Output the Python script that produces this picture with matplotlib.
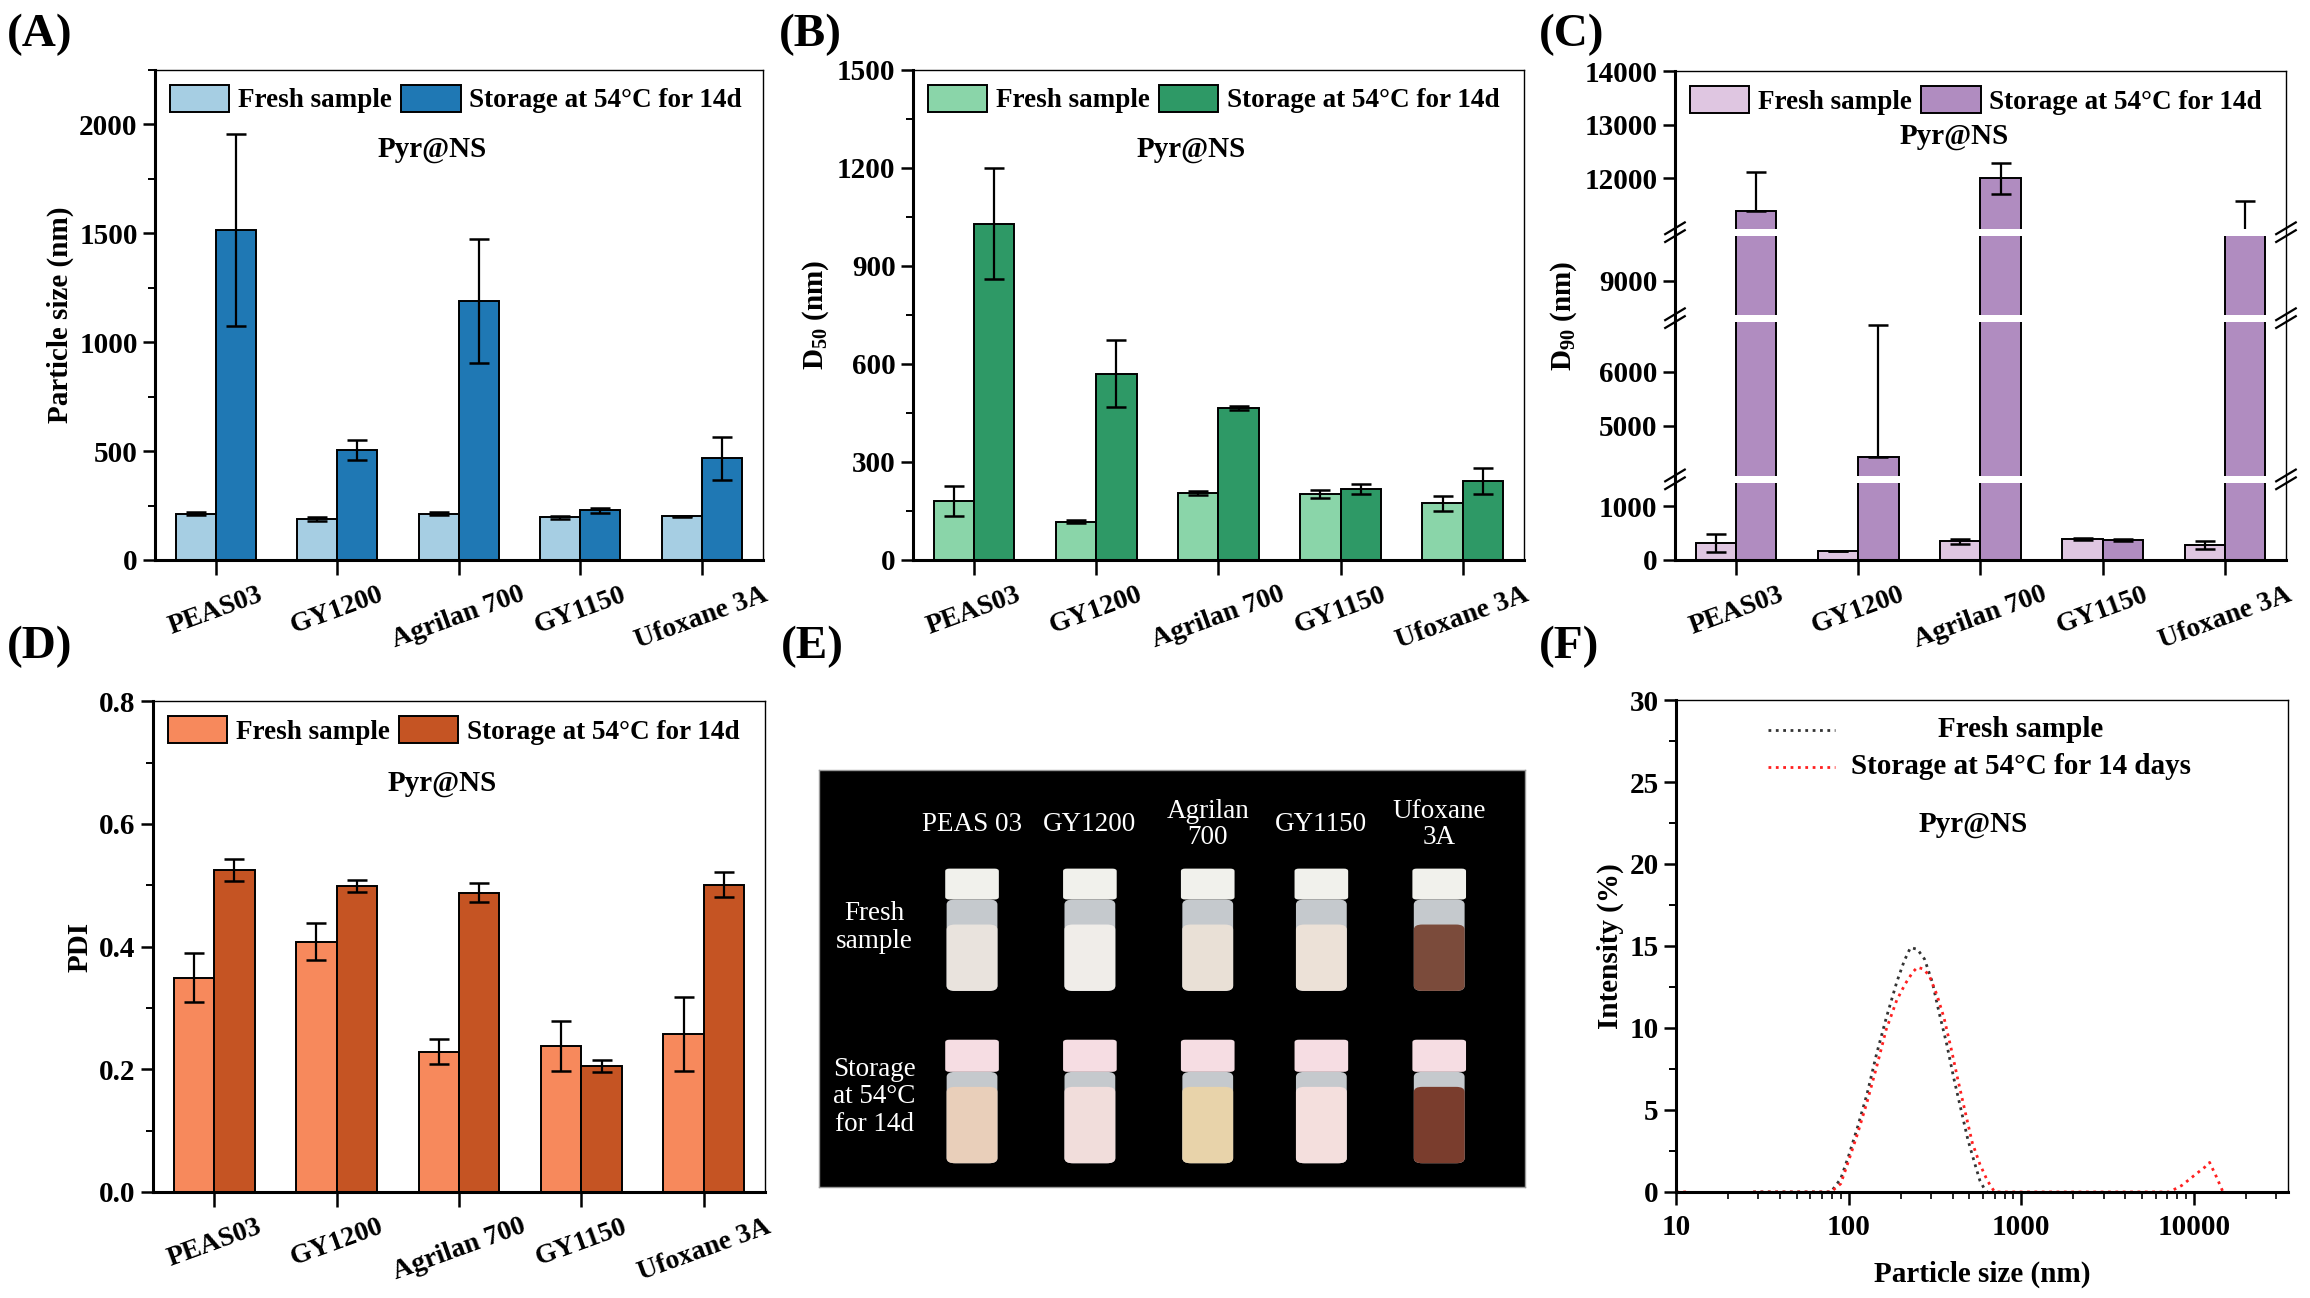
import numpy as np
import matplotlib
matplotlib.use("Agg")
import matplotlib.pyplot as plt
from matplotlib.ticker import AutoMinorLocator, FixedLocator, NullFormatter, NullLocator, LogLocator
from matplotlib.patches import Rectangle, FancyBboxPatch

plt.rcParams['font.family'] = ['Liberation Serif', 'DejaVu Serif']
plt.rcParams['font.weight'] = 'bold'
plt.rcParams['axes.labelweight'] = 'bold'
plt.rcParams['mathtext.fontset'] = 'custom'
plt.rcParams['mathtext.rm'] = 'Liberation Serif:bold'
plt.rcParams['mathtext.it'] = 'Liberation Serif:bold'
plt.rcParams['mathtext.bf'] = 'Liberation Serif:bold'

# ---- data ----
categories = ['PEAS03', 'GY1200', 'Agrilan 700', 'GY1150', 'Ufoxane 3A']

size_fresh = [213, 188, 213, 196, 201]
size_fresh_err = [8, 8, 8, 8, 2]
size_stored = [1515, 504, 1190, 228, 466]
size_stored_err = [440, 45, 285, 12, 100]

d50_fresh = [180, 117, 205, 201, 174]
d50_fresh_err = [45, 5, 6, 12, 23]
d50_stored = [1029, 570, 465, 218, 241]
d50_stored_err = [170, 103, 5, 15, 40]

d90_fresh = [320, 170, 350, 385, 280]
d90_fresh_err = [170, 0, 45, 20, 70]
d90_stored = [11400, 4420, 12000, 370, 11050]
d90_stored_err_low = [0, 0, 280, 25, 0]
d90_stored_err_high = [720, 2460, 280, 25, 530]

pdi_fresh = [0.349, 0.408, 0.229, 0.238, 0.258]
pdi_fresh_err = [0.04, 0.03, 0.02, 0.04, 0.06]
pdi_stored = [0.525, 0.499, 0.488, 0.205, 0.501]
pdi_stored_err = [0.018, 0.01, 0.016, 0.01, 0.02]

dls_fresh_size = [28, 40, 55, 70, 79, 90, 100, 113, 128, 145, 165, 190, 210, 228, 250,
                  275, 305, 333, 370, 405, 450, 490, 535, 575, 610, 635]
dls_fresh_int = [0, 0, 0, 0, 0, 0.8, 2.2, 4.0, 6.0, 8.4, 10.6, 12.8, 14.1, 14.9, 14.8,
                 14.2, 12.8, 11.0, 9.0, 7.0, 4.9, 3.2, 1.8, 0.7, 0.2, 0]
dls_stored_size = [10, 12, np.nan, 28, 40, 55, 70, 79, 90, 100, 113, 128, 145, 165, 190,
                   213, 235, 250, 270, 293, 325, 357, 395, 430, 475, 520, 575, 635, 700,
                   800, 1000, 1500, 2000, 3000, 4000, 5000, 6000, 7200, 8500, 10000,
                   11500, 12300, 13500, 14700]
dls_stored_int = [0, 0, np.nan, 0, 0, 0, 0, 0, 0.5, 1.9, 3.6, 5.5, 7.6, 9.9, 11.7,
                  12.7, 13.4, 13.7, 13.6, 13.2, 12.0, 10.6, 8.6, 6.8, 4.8, 3.0, 1.7, 0.7, 0,
                  0, 0, 0, 0, 0, 0, 0, 0, 0, 0.4, 1.0,
                  1.5, 1.8, 0.9, 0]

photo_headers = ['PEAS 03', 'GY1200', 'Agrilan\n700', 'GY1150', 'Ufoxane\n3A']
photo_rows = ['Fresh\nsample', 'Storage\nat 54°C\nfor 14d']
liquid_fresh = ['#e9e3dd', '#f0ede9', '#e9e0d6', '#ece1d7', '#7b4b3b']
liquid_stored = ['#e9cfba', '#f1dddb', '#e8d3aa', '#f4dfdd', '#7a3d2d']
cap_colors = ['#f1f1ec', '#f6dde3']

fig = plt.figure(figsize=(23.1, 12.98), dpi=100)


def style_axes(ax, minor=True):
    for s in ['left', 'bottom']:
        ax.spines[s].set_linewidth(2.2)
    for s in ['top', 'right']:
        ax.spines[s].set_linewidth(1.0)
    ax.tick_params(axis='both', which='major', direction='out', width=1.8, length=9, labelsize=21)
    if minor:
        ax.yaxis.set_minor_locator(AutoMinorLocator(2))
        ax.tick_params(axis='y', which='minor', direction='out', width=1.4, length=5)


def bar_panel(ax, fresh, fresh_err, stored, stored_err, c_fresh, c_stored, ylabel):
    x = np.arange(len(categories))
    w = 0.33
    ax.bar(x - w / 2, fresh, w, color=c_fresh, edgecolor='black', linewidth=1.4,
           label='Fresh sample', zorder=2)
    ax.bar(x + w / 2, stored, w, color=c_stored, edgecolor='black', linewidth=1.4,
           label='Storage at 54°C for 14d', zorder=2)
    ax.errorbar(x - w / 2, fresh, yerr=fresh_err, fmt='none', ecolor='black',
                elinewidth=1.6, capsize=7, capthick=1.8, zorder=3)
    ax.errorbar(x + w / 2, stored, yerr=stored_err, fmt='none', ecolor='black',
                elinewidth=1.6, capsize=7, capthick=1.8, zorder=3)
    ax.set_xlim(-0.5, len(categories) - 0.5)
    ax.set_xticks(x)
    ax.set_xticklabels(categories, rotation=20, fontsize=20)
    ax.tick_params(axis='x', which='major', length=11, pad=5)
    ax.set_ylabel(ylabel, fontsize=21)
    ax.legend(loc='upper left', bbox_to_anchor=(0.0, 1.0), ncol=2, frameon=False,
              fontsize=19.5, handlelength=2.2, handleheight=1.15, columnspacing=0.35,
              handletextpad=0.3, borderpad=0.35, borderaxespad=0.2)


# ---- (A) ----
axA = fig.add_axes([0.0671, 0.5686, 0.263, 0.3775])
style_axes(axA)
bar_panel(axA, size_fresh, size_fresh_err, size_stored, size_stored_err,
          '#a6cee3', '#1f78b4', 'Particle size (nm)')
axA.set_ylim(0, 2250)
axA.set_yticks([0, 500, 1000, 1500, 2000])
axA.text(0.456, 0.838, 'Pyr@NS', transform=axA.transAxes, ha='center', va='center', fontsize=21)

# ---- (B) ----
axB = fig.add_axes([0.3952, 0.5686, 0.2645, 0.3775])
style_axes(axB)
bar_panel(axB, d50_fresh, d50_fresh_err, d50_stored, d50_stored_err,
          '#8ad5a9', '#2e9966', 'D$_{50}$ (nm)')
axB.set_ylim(0, 1500)
axB.set_yticks([0, 300, 600, 900, 1200, 1500])
axB.text(0.456, 0.838, 'Pyr@NS', transform=axB.transAxes, ha='center', va='center', fontsize=21)

# ---- (C) broken axis ----
brk_data = [0, 1500, 4000, 7000, 8300, 9900, 11000, 14000]
brk_comp = [0, 1500, 1500.01, 4500.01, 4500.02, 6100.02, 6100.03, 9100.03]


def squash(v):
    return np.interp(v, brk_data, brk_comp)


def unsquash(c):
    return np.interp(c, brk_comp, brk_data)


axC = fig.add_axes([0.7251, 0.5686, 0.2645, 0.3767])
axC.set_yscale('function', functions=(squash, unsquash))
style_axes(axC, minor=False)
bar_panel(axC, d90_fresh, d90_fresh_err, d90_stored,
          [d90_stored_err_low, d90_stored_err_high],
          '#dfc6e1', '#b08cc0', 'D$_{90}$ (nm)')
axC.set_ylim(0, 14000)
axC.yaxis.set_major_locator(FixedLocator([0, 1000, 5000, 6000, 9000, 12000, 13000, 14000]))
axC.yaxis.set_minor_locator(NullLocator())
axC.text(0.457, 0.866, 'Pyr@NS', transform=axC.transAxes, ha='center', va='center', fontsize=21)
for b in [1500, 4500.01, 6100.02]:
    fr = b / brk_comp[-1]
    axC.add_patch(Rectangle((0.004, fr - 0.007), 0.992, 0.014, transform=axC.transAxes,
                            facecolor='white', edgecolor='none', zorder=4))
    for xs in (0.0, 1.0):
        for dy in (-0.008, 0.008):
            axC.plot([xs - 0.016, xs + 0.016], [fr + dy - 0.012, fr + dy + 0.012],
                     transform=axC.transAxes, color='black', lw=1.6, clip_on=False, zorder=5)

# ---- (D) ----
axD = fig.add_axes([0.0662, 0.0817, 0.265, 0.378])
style_axes(axD)
bar_panel(axD, pdi_fresh, pdi_fresh_err, pdi_stored, pdi_stored_err,
          '#f7895c', '#c55423', 'PDI')
axD.set_ylim(0, 0.8)
axD.set_yticks([0.0, 0.2, 0.4, 0.6, 0.8])
axD.set_yticklabels(['0.0', '0.2', '0.4', '0.6', '0.8'])
axD.text(0.473, 0.833, 'Pyr@NS', transform=axD.transAxes, ha='center', va='center', fontsize=21)

# ---- (E) photo panel ----
axE = fig.add_axes([0.3545, 0.0855, 0.3055, 0.3215])
axE.set_facecolor('black')
axE.set_xlim(0, 1)
axE.set_ylim(0, 1)
axE.set_xticks([])
axE.set_yticks([])
for s in axE.spines.values():
    s.set_color('#9a9a9a')
    s.set_linewidth(1.0)
col_x = [0.217, 0.384, 0.551, 0.712, 0.879]
for cx, h in zip(col_x, photo_headers):
    axE.text(cx, 0.869, h, color='white', ha='center', va='center', fontsize=19.5,
             fontweight='normal', linespacing=1.05)
axE.text(0.079, 0.622, photo_rows[0], color='white', ha='center', va='center',
         fontsize=19.5, fontweight='normal', linespacing=1.15)
axE.text(0.079, 0.216, photo_rows[1], color='white', ha='center', va='center',
         fontsize=19.5, fontweight='normal', linespacing=1.15)
rows = [(0.689, 0.763, 0.470, 0.629, liquid_fresh, cap_colors[0]),
        (0.276, 0.353, 0.057, 0.240, liquid_stored, cap_colors[1])]
for cap_lo, cap_hi, body_lo, liq_hi, liq_cols, capc in rows:
    for cx, lc in zip(col_x, liq_cols):
        axE.add_patch(FancyBboxPatch((cx - 0.036, body_lo), 0.072, cap_lo - body_lo,
                                     boxstyle='round,pad=0,rounding_size=0.012',
                                     facecolor='#c5c9cd', edgecolor='none'))
        axE.add_patch(FancyBboxPatch((cx - 0.036, body_lo), 0.072, liq_hi - body_lo,
                                     boxstyle='round,pad=0,rounding_size=0.012',
                                     facecolor=lc, edgecolor='none'))
        axE.add_patch(FancyBboxPatch((cx - 0.038, cap_lo), 0.076, cap_hi - cap_lo,
                                     boxstyle='round,pad=0,rounding_size=0.006',
                                     facecolor=capc, edgecolor='none'))

# ---- (F) ----
axF = fig.add_axes([0.7255, 0.0817, 0.265, 0.379])
style_axes(axF)
lf, = axF.plot(dls_fresh_size, dls_fresh_int, ls=':', color='#333333', lw=2.0)
ls_, = axF.plot(dls_stored_size, dls_stored_int, ls=':', color='#ff2020', lw=2.0)
axF.set_xscale('log')
axF.set_xlim(10, 35000)
axF.set_ylim(0, 30)
axF.xaxis.set_major_locator(FixedLocator([10, 100, 1000, 10000]))
axF.set_xticklabels(['10', '100', '1000', '10000'])
axF.xaxis.set_minor_locator(LogLocator(base=10, subs=np.arange(2, 10)))
axF.xaxis.set_minor_formatter(NullFormatter())
axF.tick_params(axis='x', which='minor', direction='out', width=1.2, length=5)
axF.tick_params(axis='x', which='major', pad=7)
axF.set_yticks([0, 5, 10, 15, 20, 25, 30])
axF.set_xlabel('Particle size (nm)', fontsize=21, labelpad=14)
axF.set_ylabel('Intensity (%)', fontsize=21)
for line, yy, lab in [(lf, 0.940, 'Fresh sample'), (ls_, 0.864, 'Storage at 54°C for 14 days')]:
    axF.plot([0.15, 0.26], [yy, yy], transform=axF.transAxes, ls=':',
             color=line.get_color(), lw=2.0)
    axF.text(0.563, yy, lab, transform=axF.transAxes, ha='center', va='center', fontsize=21)
axF.text(0.486, 0.747, 'Pyr@NS', transform=axF.transAxes, ha='center', va='center', fontsize=21)

# ---- panel letters ----
for lx, ly, lab in [(0.003, 0.973, '(A)'), (0.337, 0.973, '(B)'), (0.666, 0.973, '(C)'),
                    (0.003, 0.502, '(D)'), (0.338, 0.502, '(E)'), (0.666, 0.502, '(F)')]:
    fig.text(lx, ly, lab, fontsize=34, fontweight='bold', va='center', ha='left')

fig.savefig('out.png', dpi=100)
